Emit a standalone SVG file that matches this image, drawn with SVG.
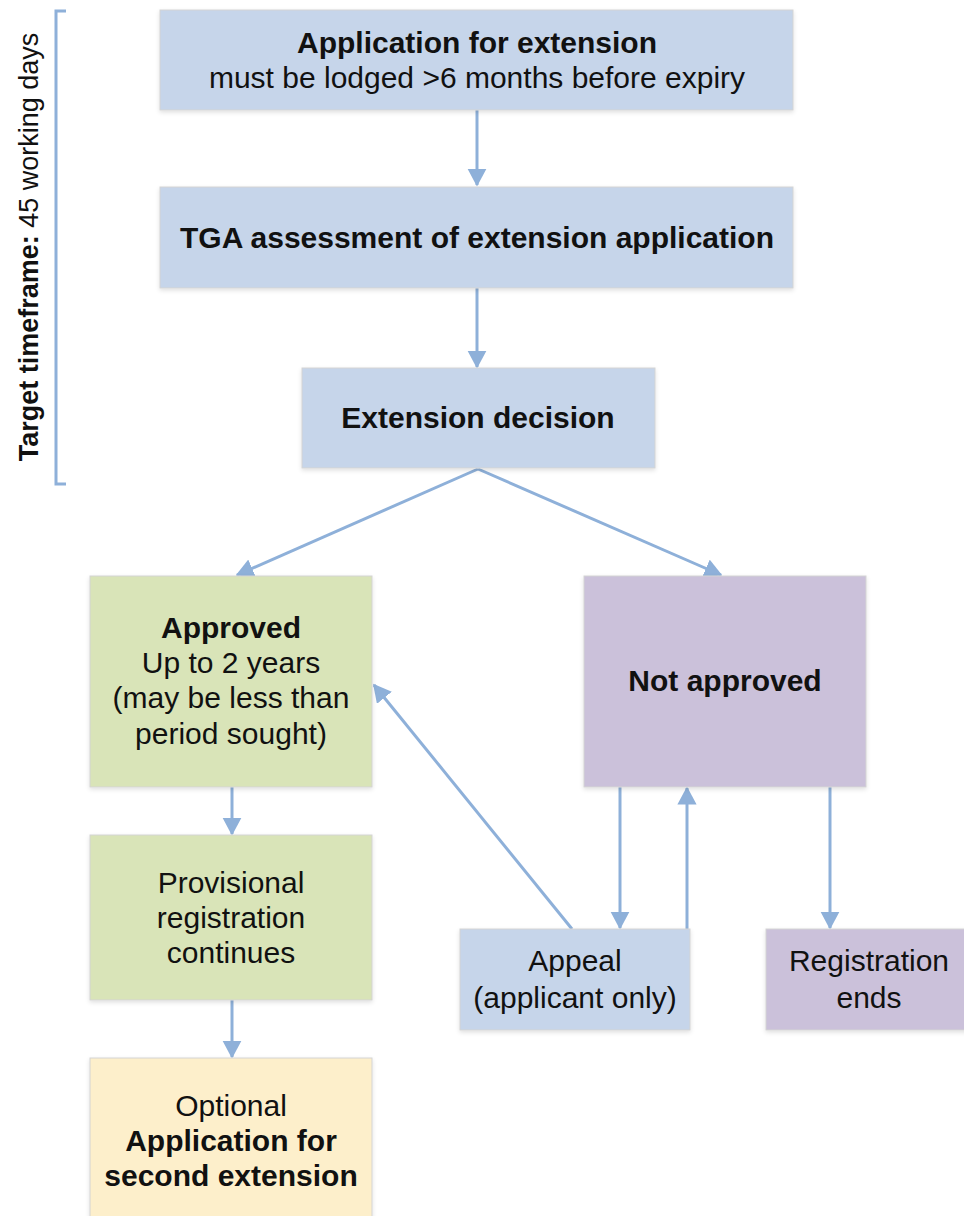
<svg xmlns="http://www.w3.org/2000/svg" width="964" height="1216" viewBox="0 0 964 1216">
<style>
.t{font-family:"Liberation Sans",Arial,sans-serif;font-size:30px;fill:#111;text-anchor:middle}
.b{font-weight:bold}
.blue{fill:#c6d5ea}
.green{fill:#d9e4b8}
.purple{fill:#cbc1da}
.yellow{fill:#fdefcb}
.box{stroke:#d4d4d4;stroke-width:1;filter:url(#sh)}
.con{stroke:#8eb0d9;stroke-width:3;fill:none}
</style>
<defs>
<filter id="sh" x="-5%" y="-5%" width="110%" height="115%">
<feDropShadow dx="0" dy="2" stdDeviation="2" flood-color="#000" flood-opacity="0.12"/>
</filter>
<marker id="ah" markerWidth="6" markerHeight="6.4" viewBox="0 0 6 6.4" refX="5.5" refY="3.2" orient="auto" markerUnits="strokeWidth">
<path d="M0,0 L6,3.2 L0,6.4 z" fill="#8eb0d9"/>
</marker>
</defs>
<g id="bracket">
<path d="M66,11 L56,11 L56,484 L66,484" stroke="#8eb0d9" stroke-width="3" fill="none"/>
<text class="t" transform="translate(38,247) rotate(-90)" style="font-size:27px"><tspan class="b">Target timeframe:</tspan> 45 working days</text>
</g>
<g id="connectors">
<line class="con" x1="477" y1="110" x2="477" y2="185" marker-end="url(#ah)"/>
<line class="con" x1="477" y1="288" x2="477" y2="367" marker-end="url(#ah)"/>
<line class="con" x1="478" y1="469" x2="237" y2="575" marker-end="url(#ah)"/>
<line class="con" x1="478" y1="469" x2="721" y2="575" marker-end="url(#ah)"/>
<line class="con" x1="232" y1="787" x2="232" y2="834" marker-end="url(#ah)"/>
<line class="con" x1="232" y1="1000" x2="232" y2="1057" marker-end="url(#ah)"/>
<line class="con" x1="620" y1="787" x2="620" y2="928" marker-end="url(#ah)"/>
<line class="con" x1="687" y1="929" x2="687" y2="788" marker-end="url(#ah)"/>
<line class="con" x1="830" y1="787" x2="830" y2="928" marker-end="url(#ah)"/>
<line class="con" x1="572" y1="929" x2="374" y2="685" marker-end="url(#ah)"/>
</g>
<g id="app-ext">
<rect class="box blue" x="160" y="10" width="633" height="100"/>
<text class="t b" x="477" y="53">Application for extension</text>
<text class="t" x="477" y="88">must be lodged &gt;6 months before expiry</text>
</g>
<g id="tga">
<rect class="box blue" x="160" y="187" width="633" height="101"/>
<text class="t b" x="477" y="248">TGA assessment of extension application</text>
</g>
<g id="decision">
<rect class="box blue" x="302" y="368" width="353" height="100"/>
<text class="t b" x="478" y="428">Extension decision</text>
</g>
<g id="approved">
<rect class="box green" x="90" y="576" width="282" height="211"/>
<text class="t b" x="231" y="638">Approved</text>
<text class="t" x="231" y="673">Up to 2 years</text>
<text class="t" x="231" y="708">(may be less than</text>
<text class="t" x="231" y="744">period sought)</text>
</g>
<g id="not-approved">
<rect class="box purple" x="584" y="576" width="282" height="211"/>
<text class="t b" x="725" y="691">Not approved</text>
</g>
<g id="provisional">
<rect class="box green" x="90" y="835" width="282" height="165"/>
<text class="t" x="231" y="893">Provisional</text>
<text class="t" x="231" y="928">registration</text>
<text class="t" x="231" y="963">continues</text>
</g>
<g id="optional">
<rect class="box yellow" x="90" y="1058" width="282" height="170"/>
<text class="t" x="231" y="1116">Optional</text>
<text class="t b" x="231" y="1151">Application for</text>
<text class="t b" x="231" y="1186">second extension</text>
</g>
<g id="appeal">
<rect class="box blue" x="460" y="929" width="230" height="101"/>
<text class="t" x="575" y="971">Appeal</text>
<text class="t" x="575" y="1008">(applicant only)</text>
</g>
<g id="reg-ends">
<rect class="box purple" x="766" y="929" width="210" height="101"/>
<text class="t" x="869" y="971">Registration</text>
<text class="t" x="869" y="1008">ends</text>
</g>
</svg>
